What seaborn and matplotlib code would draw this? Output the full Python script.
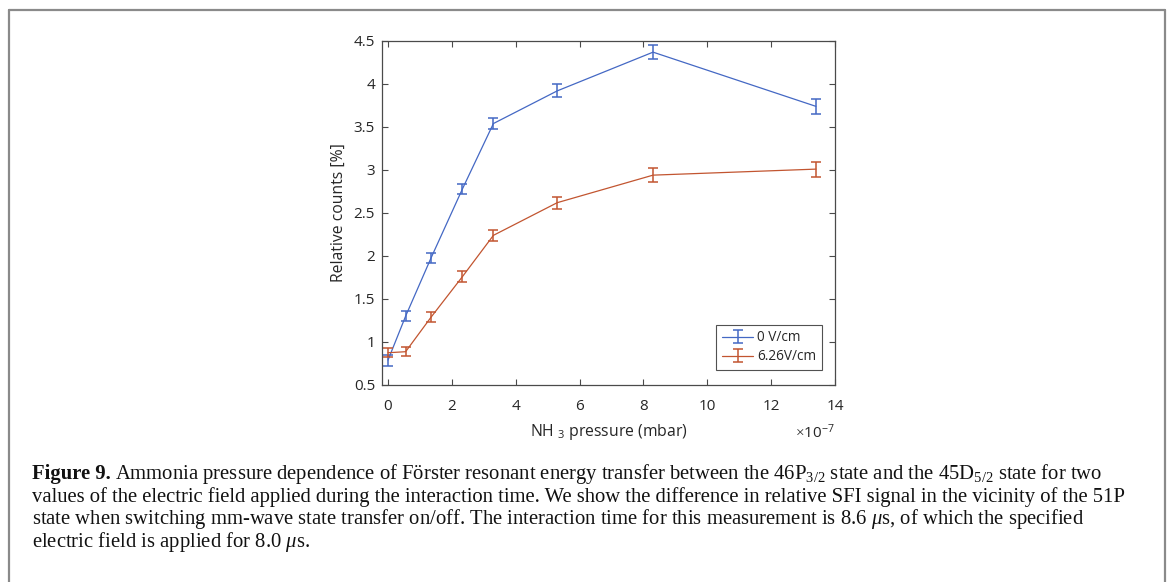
import matplotlib
matplotlib.use("Agg")
import matplotlib.pyplot as plt
from matplotlib.lines import Line2D
from matplotlib.legend_handler import HandlerTuple
import pandas as pd
import seaborn as sns

# NH3 pressure (mbar) and relative counts (%) with their uncertainties
pressure = [0.0, 0.55e-7, 1.35e-7, 2.33e-7, 3.3e-7, 5.3e-7, 8.3e-7, 13.4e-7]
counts_0v = [0.79, 1.30, 1.98, 2.78, 3.54, 3.92, 4.37, 3.74]
err_0v = [0.064, 0.056, 0.058, 0.060, 0.068, 0.074, 0.083, 0.09]
counts_626v = [0.875, 0.887, 1.29, 1.76, 2.24, 2.62, 2.94, 3.01]
err_626v = [0.054, 0.052, 0.058, 0.062, 0.062, 0.07, 0.08, 0.087]
series_labels = ["0 V/cm", "6.26V/cm"]
x_ticks = [0, 2e-7, 4e-7, 6e-7, 8e-7, 10e-7, 12e-7, 14e-7]
y_ticks = [0.5, 1, 1.5, 2, 2.5, 3, 3.5, 4, 4.5]
x_exponent = -7

caption_lines = [
    r"Ammonia pressure dependence of Förster resonant energy transfer between the 46P$_{3/2}$ state and the 45D$_{5/2}$ state for two",
    r"values of the electric field applied during the interaction time. We show the difference in relative SFI signal in the vicinity of the 51P",
    r"state when switching mm-wave state transfer on/off. The interaction time for this measurement is 8.6 $\mu$s, of which the specified",
    r"electric field is applied for 8.0 $\mu$s.",
]

sns.set_theme(style="ticks")
plt.rcParams["font.family"] = ["Open Sans", "DejaVu Sans"]
plt.rcParams["mathtext.fontset"] = "custom"
plt.rcParams["mathtext.rm"] = "Liberation Serif"
plt.rcParams["mathtext.it"] = "Liberation Serif:italic"
plt.rcParams["mathtext.bf"] = "Liberation Serif:bold"
plt.rcParams["mathtext.sf"] = "Open Sans"

blue = "#4468c4"
red = "#c25530"
axis_col = "#4a4a4a"
text_col = "#262626"

df = pd.DataFrame({
    "pressure": pressure * 2,
    "counts": counts_0v + counts_626v,
    "field": [series_labels[0]] * len(pressure) + [series_labels[1]] * len(pressure),
})

fig = plt.figure(figsize=(11.71, 5.82), dpi=100)
ax = fig.add_axes([0.3262, 0.3385, 0.3869, 0.5911])

sns.lineplot(data=df, x="pressure", y="counts", hue="field",
             palette=[blue, red], linewidth=0.9, legend=False, ax=ax,
             errorbar=None)

handles = []
for y, e, c, line in zip([counts_0v, counts_626v], [err_0v, err_626v],
                         [blue, red], ax.lines):
    eb = ax.errorbar(pressure, y, yerr=e, fmt="none", ecolor=c,
                     elinewidth=1.1, capsize=3.4, capthick=1.1)
    handles.append((line, eb))

ax.set_xlim(-0.19e-7, 14e-7)
ax.set_ylim(0.5, 4.5)
ax.set_xticks(x_ticks)
ax.set_yticks(y_ticks)
ax.yaxis.set_major_formatter(matplotlib.ticker.FormatStrFormatter("%g"))
ax.xaxis.set_major_formatter(
    matplotlib.ticker.FuncFormatter(lambda v, p: f"{v / 10 ** x_exponent:g}"))
ax.text(1.0, -0.138, r"$\times\mathdefault{10^{%d}}$" % x_exponent,
        transform=ax.transAxes, ha="right", va="center", fontsize=11,
        color=text_col)

for s in ax.spines.values():
    s.set_visible(True)
    s.set_color(axis_col)
    s.set_linewidth(0.9)
ax.tick_params(direction="in", length=4, width=0.8, colors=axis_col,
               labelcolor=text_col, labelsize=11, top=True, right=True, pad=5)
ax.tick_params(axis="x", pad=10)

ax.set_xlabel(r"NH $_{\mathsf{3}}$ pressure (mbar)", fontsize=11.3,
              color=text_col, labelpad=6)
ax.set_ylabel("Relative counts [%]", fontsize=11.3, color=text_col, labelpad=5)

leg = ax.legend(handles, series_labels, handler_map={tuple: HandlerTuple(ndivide=1)},
                loc="lower right", bbox_to_anchor=(0.971, 0.044),
                fontsize=9.8, frameon=True, fancybox=False, handlelength=2.3,
                handletextpad=0.3, borderpad=0.4, labelspacing=0.3,
                borderaxespad=0.0)
leg.get_frame().set_edgecolor("#262626")
leg.get_frame().set_linewidth(0.8)
for t in leg.get_texts():
    t.set_color(text_col)

# Caption frame: left, top and right rules
W, H = 1171.0, 582.0
frame_col = "#8a8a8a"
fig.add_artist(Line2D([9 / W, 9 / W], [0, 1 - 9.5 / H], transform=fig.transFigure,
                      color=frame_col, linewidth=1.6))
fig.add_artist(Line2D([9 / W, 1165 / W], [1 - 9.5 / H, 1 - 9.5 / H],
                      transform=fig.transFigure, color=frame_col, linewidth=1.6))
fig.add_artist(Line2D([1165 / W, 1165 / W], [0, 1 - 9.5 / H], transform=fig.transFigure,
                      color=frame_col, linewidth=1.6))

# Caption text
cap_x = 32 / W
base0 = 479
step = 22.6
cap_size = 14.9
serif = ["Liberation Serif", "DejaVu Serif"]
lead = fig.text(cap_x, 1 - base0 / H, "Figure 9.", family=serif, fontweight="bold",
                fontsize=cap_size, color="#111111", va="baseline")
fig.canvas.draw()
bb = lead.get_window_extent()
fig.text((bb.x1 + 4) / W, 1 - base0 / H, caption_lines[0], family=serif,
         fontsize=cap_size, color="#111111", va="baseline")
for i, line in enumerate(caption_lines[1:], start=1):
    fig.text(cap_x, 1 - (base0 + i * step) / H, line, family=serif,
             fontsize=cap_size, color="#111111", va="baseline")

fig.savefig("out.png", dpi=100)
